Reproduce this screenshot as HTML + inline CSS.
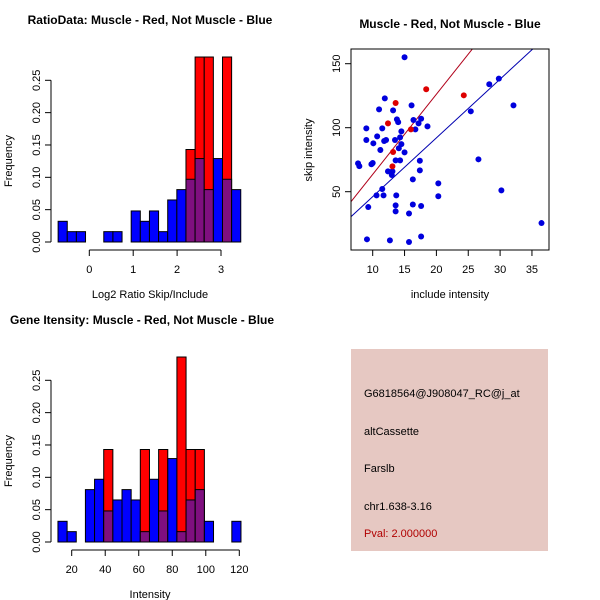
<!DOCTYPE html>
<html><head><meta charset="utf-8"><style>
body{margin:0;background:#fff}
svg{display:block}
text{font-family:"Liberation Sans",sans-serif;fill:#000}
</style></head><body>
<svg id="chart" width="600" height="600" viewBox="0 0 600 600"></svg>
<script>
// ---- data ----
const ratioBlue=[0.032,0.016,0.016,0,0,0.016,0.016,0,0.048,0.032,0.048,0.016,0.065,0.081,0.097,0.129,0.081,0.129,0.097,0.081];
const ratioRed=[0,0,0,0,0,0,0,0,0,0,0,0,0,0,0.143,0.286,0.286,0,0.286,0];
const ratioStart=-0.71, ratioBinW=0.208;
const ratioTicks=[0,1,2,3];
const intBlue=[0.032,0.016,0,0.081,0.097,0.048,0.065,0.081,0.065,0.016,0.097,0.048,0.129,0.016,0.065,0.081,0.032,0,0,0.032];
const intRed=[0,0,0,0,0,0.143,0,0,0,0.143,0,0.143,0,0.286,0.143,0.143,0,0,0,0];
const intStart=11.8, intBinW=5.46;
const intTicks=[20,40,60,80,100,120];
const freqTicks=["0.00","0.05","0.10","0.15","0.20","0.25"];
const blueX=[15.0,9.1,12.7,15.7,17.6,36.5,30.2,26.6,25.4,28.3,29.8,32.1,20.3,20.3,18.6,17.6,17.2,17.4,17.4,16.3,16.3,15.7,17.6,16.1,16.4,16.7,14.5,15.0,14.3,14.5,14.1,14.3,13.6,13.8,14.0,13.5,13.2,13.1,13.0,12.4,13.7,13.6,13.6,11.9,11.0,11.5,11.8,12.1,10.7,11.2,10.1,9.0,9.0,7.7,7.9,9.8,10.0,10.6,11.7,11.5,9.3];
const blueY=[155,12.8,12,10.7,15,25.5,51,75.3,112.8,133.9,138.3,117.4,56.5,46.4,101,107,103.4,74.2,66.7,59.6,40,33,38.8,117.4,106,98.7,97.1,80.7,92.4,87.2,83.9,74.5,74.5,106.5,104.4,90.4,113.5,65.9,63,65.9,47.1,39.3,34.6,122.9,114.3,99.5,89.6,90.4,93.2,82.6,87.8,99.5,90.4,72.1,70,71.4,72.4,47.1,47.1,52.1,38];
const redX=[13.6,12.4,18.4,24.3,16.0,13.2,13.1];
const redY=[119.3,103.4,130,125.3,98.7,81,69.8];
const fitRed=[0.95,6.26], fitBlue=[0.25,4.59];
const scXTicks=[10,15,20,25,30,35], scYTicks=[50,100,150];

const NS="http://www.w3.org/2000/svg", svg=document.getElementById('chart');
function el(tag,attrs,parent,txt){const e=document.createElementNS(NS,tag);for(const k in attrs)e.setAttribute(k,attrs[k]);if(txt!==undefined)e.textContent=txt;(parent||svg).appendChild(e);return e;}

function hist(oy,blue,red,start,bw,ticks,xmap,title,xlab,titleX,anchor,gname){
  const g=el('g',{},svg);
  
  
  const y=v=>oy+202-v*(161.7/0.25);
  const t=el('text',{x:titleX,y:oy-16,'font-size':12,'font-weight':'bold','text-anchor':anchor},g,title);
  
  for(let i=0;i<blue.length;i++){
    const x0=xmap(start+i*bw),x1=xmap(start+(i+1)*bw);
    const b=blue[i],r=red[i];
    const draw=(v,c,n)=>{if(v<=0)return;const rc=el('rect',{x:x0,y:y(v),width:x1-x0,height:y(0)-y(v),fill:c,stroke:'#000','stroke-width':1},g);
      };
    if(r>b){draw(r,'#ff0000','bar-red');draw(b,'#7f0f7f','bar-overlap');}
    else{draw(b,'#0000ff','bar-blue');draw(r,'#7f0f7f','bar-overlap');}
  }
  // y axis
  el('line',{x1:51,x2:51,y1:y(0),y2:y(0.25),stroke:'#000'},g);
  freqTicks.forEach(s=>{const v=parseFloat(s);el('line',{x1:45,x2:51,y1:y(v),y2:y(v),stroke:'#000'},g);
    const tt=el('text',{x:40,y:y(v),'font-size':11,'text-anchor':'middle',transform:`rotate(-90 40 ${y(v)})`},g,s);
    });
  const yl=el('text',{x:12,y:oy+121,'font-size':11,'text-anchor':'middle',transform:`rotate(-90 12 ${oy+121})`},g,'Frequency');
  
  // x axis
  const ay=oy+210;
  el('line',{x1:xmap(ticks[0]),x2:xmap(ticks[ticks.length-1]),y1:ay,y2:ay,stroke:'#000'},g);
  ticks.forEach(v=>{el('line',{x1:xmap(v),x2:xmap(v),y1:ay,y2:ay+6,stroke:'#000'},g);
    const tt=el('text',{x:xmap(v),y:ay+23,'font-size':11,'text-anchor':'middle'},g,String(v));
    });
  const xl=el('text',{x:150,y:oy+258,'font-size':11,'text-anchor':'middle'},g,xlab);
  
}
hist(40,ratioBlue,ratioRed,ratioStart,ratioBinW,ratioTicks,v=>89.3+v*43.9,'RatioData: Muscle - Red, Not Muscle - Blue','Log2 Ratio Skip/Include',150,'middle','ratio-histogram');
hist(340,intBlue,intRed,intStart,intBinW,intTicks,v=>71.7+(v-20)*1.676,'Gene Itensity: Muscle - Red, Not Muscle - Blue','Intensity',10,'start','intensity-histogram');

// scatter
const sg=el('g',{},svg);


const sx=v=>372.7+(v-10)*6.37, sy=v=>191.7-(v-50)*1.28;
const st=el('text',{x:450,y:28,'font-size':12,'font-weight':'bold','text-anchor':'middle'},sg,'Muscle - Red, Not Muscle - Blue');

el('clipPath',{id:'clip'},sg).appendChild(Object.assign(document.createElementNS(NS,'rect')));
const cr=sg.querySelector('clipPath rect');cr.setAttribute('x',351);cr.setAttribute('y',49);cr.setAttribute('width',198);cr.setAttribute('height',201);
const plot=el('g',{'clip-path':'url(#clip)'},sg);
[[fitRed,'#b0001a','fit-line-red'],[fitBlue,'#0000b0','fit-line-blue']].forEach(([f,c,n])=>{
  const l=el('line',{x1:sx(0),y1:sy(f[0]),x2:sx(40),y2:sy(f[0]+f[1]*40),stroke:c,'stroke-width':1},plot);
  });
blueX.forEach((v,i)=>{const c=el('circle',{cx:sx(v),cy:sy(blueY[i]),r:3,fill:'#0000dd'},plot);
  });
redX.forEach((v,i)=>{const c=el('circle',{cx:sx(v),cy:sy(redY[i]),r:3,fill:'#dd0000'},plot);
  });
el('rect',{x:351,y:49,width:198,height:201,fill:'none',stroke:'#000'},sg);
scXTicks.forEach(v=>{el('line',{x1:sx(v),x2:sx(v),y1:250,y2:256,stroke:'#000'},sg);
  const t=el('text',{x:sx(v),y:273,'font-size':11,'text-anchor':'middle'},sg,String(v));
  });
scYTicks.forEach(v=>{el('line',{x1:345,x2:351,y1:sy(v),y2:sy(v),stroke:'#000'},sg);
  const t=el('text',{x:340,y:sy(v),'font-size':11,'text-anchor':'middle',transform:`rotate(-90 340 ${sy(v)})`},sg,String(v));
  });
const sxl=el('text',{x:450,y:298,'font-size':11,'text-anchor':'middle'},sg,'include intensity');

const syl=el('text',{x:312,y:150,'font-size':11,'text-anchor':'middle',transform:'rotate(-90 312 150)'},sg,'skip intensity');


// info box
const ig=el('g',{},svg);


el('rect',{x:351,y:349,width:197,height:202,fill:'#e6c8c2'},ig);
[['G6818564@J908047_RC@j_at',397,'#000','probe-id'],['altCassette',435,'#000','event-type'],['Farslb',472,'#000','gene-name'],['chr1.638-3.16',510,'#000','location'],['Pval: 2.000000',537,'#b00000','p-value']].forEach(([s,yy,c,n])=>{
  const t=el('text',{x:364,y:yy,'font-size':11,fill:c},ig,s);t.style.fill=c;
  });
</script>
</body></html>
